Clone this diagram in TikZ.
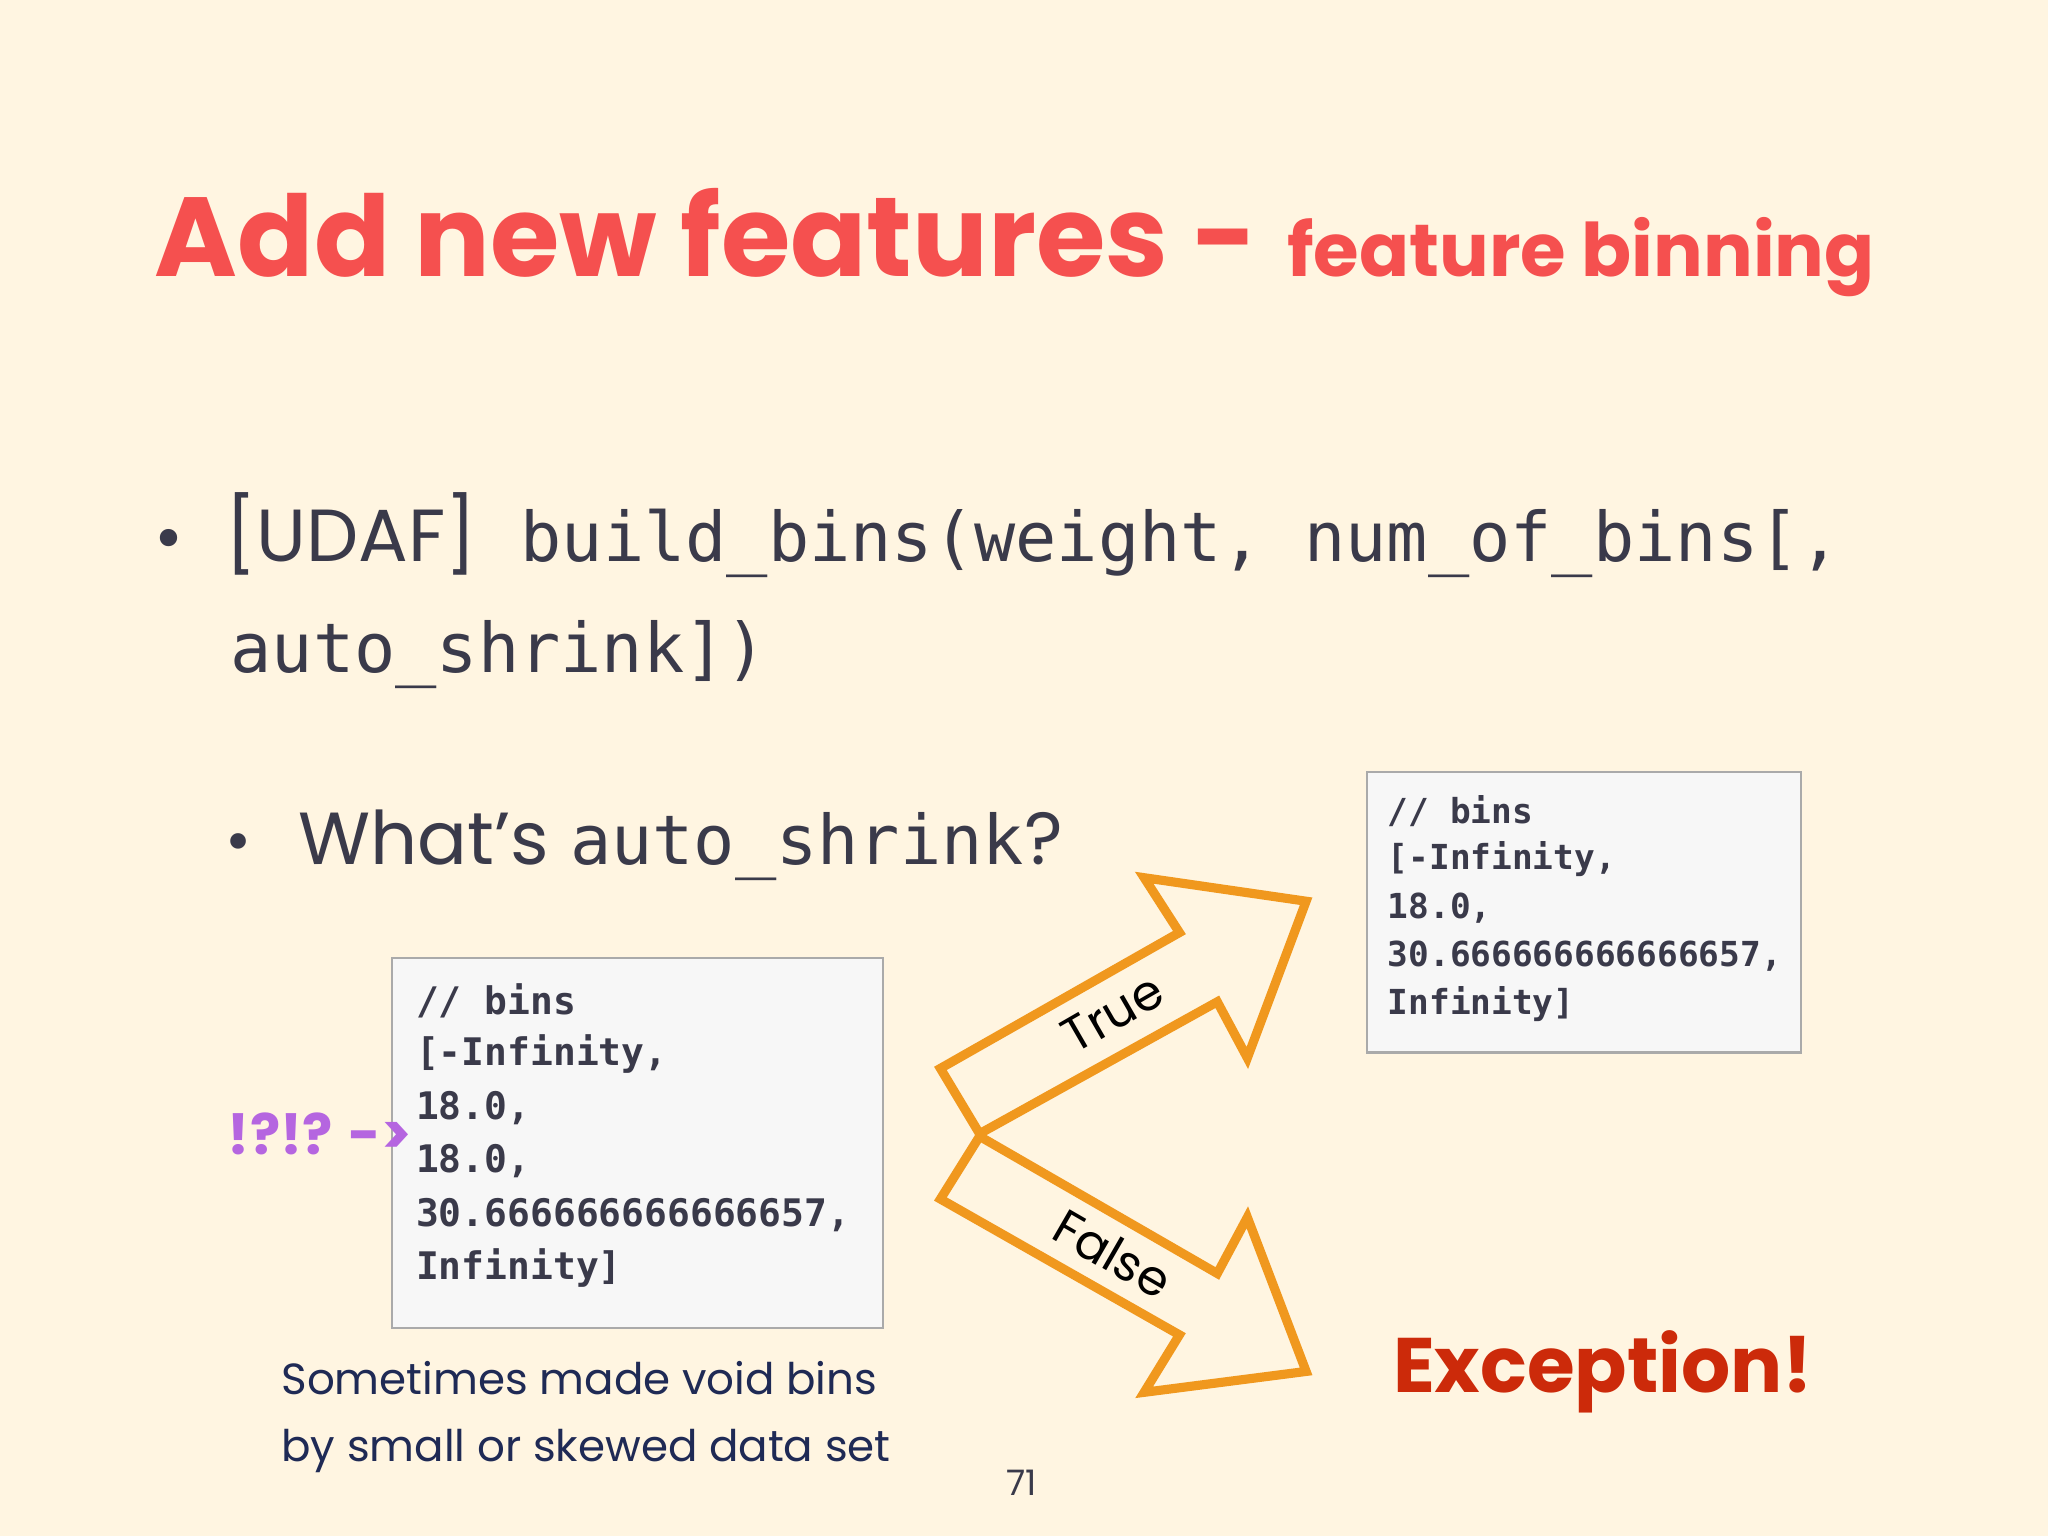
\documentclass[tikz,border=0pt]{standalone}
\usepackage{fontspec}
\setmainfont{Poppins}
\newfontfamily\codefont{DejaVu Sans Mono}
\definecolor{bg}{HTML}{FFF5E1}
\definecolor{titlered}{HTML}{F5504F}
\definecolor{txt}{HTML}{3A3A4A}
\definecolor{codebg}{HTML}{F7F7F7}
\definecolor{codeborder}{HTML}{AAAAAA}
\definecolor{arr}{HTML}{F0981E}
\definecolor{purp}{HTML}{B565E0}
\definecolor{exc}{HTML}{CC2A0A}
\definecolor{navy}{HTML}{1F2A55}
\begin{document}
\begin{tikzpicture}[x=0.01306cm,y=-0.01306cm,
  codebox/.style={draw=codeborder,fill=codebg,line width=0.6pt,anchor=north west,inner sep=0pt},
  codetxt/.style={anchor=west,inner sep=0pt,text=txt},
  blockarrow/.style={draw=arr,line width=2.6pt,line join=miter}]
\fill[bg] (0,0) rectangle (1568,1176);
\useasboundingbox (0,0) rectangle (1568,1176);
% title
\node[anchor=base west,inner sep=0pt,text=titlered,font=\fontsize{32}{36}\selectfont\bfseries] (title) at (118,212) {Add new features -};
\node[anchor=base west,inner sep=0pt,text=titlered,font=\fontsize{21}{26}\selectfont\bfseries] (sub) at (985,212) {feature binning};
% bullet 1
\node[anchor=base west,inner sep=0pt,text=txt,font=\fontsize{20}{24}\selectfont] (b1) at (118,430) {\textbullet};
\node[anchor=base west,inner sep=0pt,text=txt,font=\fontsize{21}{24}\selectfont] (udaf) at (172,430) {[UDAF]};
\node[anchor=base west,inner sep=0pt,text=txt,font=\fontsize{19.5}{24}\selectfont\codefont] (fn) at (398,430) {build\_bins(weight, num\_of\_bins[,};
\node[anchor=base west,inner sep=0pt,text=txt,font=\fontsize{19.5}{24}\selectfont\codefont] (fn2) at (176,515) {auto\_shrink])};
% bullet 2
\node[anchor=base west,inner sep=0pt,text=txt,font=\fontsize{18}{22}\selectfont] (b2) at (172,660) {\textbullet};
\node[anchor=base west,inner sep=0pt,text=txt,font=\fontsize{21}{24}\selectfont] (what) at (228,662) {What’s};
\node[anchor=base west,inner sep=0pt,text=txt,font=\fontsize{19.5}{24}\selectfont\codefont] (as) at (436,662) {auto\_shrink};
\node[anchor=base west,inner sep=0pt,text=txt,font=\fontsize{21}{24}\selectfont] (q) at (784,662) {?};
% code box 1
\node[codebox,minimum width=376*0.01306cm,minimum height=283*0.01306cm] (cb1) at (299,733) {};
\foreach \t [count=\i] in {// bins,[-Infinity{,},18.0{,},18.0{,},30.666666666666657{,},Infinity]}
  \node[codetxt,font=\fontsize{10.8}{12}\selectfont\codefont\bfseries] (c1l\i) at (318,{725+41*\i}) {\t};
% code box 2
\node[codebox,minimum width=332*0.01306cm,minimum height=215*0.01306cm] (cb2) at (1046,590) {};
\foreach \t [count=\i] in {// bins,[-Infinity{,},18.0{,},30.666666666666657{,},Infinity]}
  \node[codetxt,font=\fontsize{9.8}{12}\selectfont\codefont\bfseries] (c2l\i) at (1062,{584+37*\i}) {\t};
% arrows
\draw[blockarrow] (720,818) -- (903,714) -- (876,672) -- (1000,690) -- (955,810) -- (932,767) -- (750,868) -- cycle;
\draw[blockarrow] (750,870) -- (720,918) -- (903,1022) -- (876,1066) -- (1000,1050) -- (955,932) -- (932,975) -- cycle;
\node[rotate=30,font=\fontsize{14}{18}\selectfont,text=black] (tr) at (852,776) {True};
\node[rotate=-30,font=\fontsize{14}{18}\selectfont,text=black] (fa) at (852,960) {False};
% labels
\node[anchor=base west,inner sep=0pt,text=purp,font=\fontsize{16}{20}\selectfont\bfseries] (wtf) at (174,884) {!?!? ->};
\node[anchor=base west,inner sep=0pt,text=exc,font=\fontsize{22}{26}\selectfont\bfseries] (ex) at (1066,1066) {Exception!};
\node[anchor=base west,inner sep=0pt,text=navy,font=\fontsize{12.4}{16}\selectfont] (cap1) at (215,1068) {Sometimes made void bins};
\node[anchor=base west,inner sep=0pt,text=navy,font=\fontsize{12.4}{16}\selectfont] (cap2) at (215,1119) {by small or skewed data set};
\node[anchor=base,inner sep=0pt,text=txt,font=\fontsize{10}{12}\selectfont] (pg) at (782,1145) {71};
\end{tikzpicture}
\end{document}
